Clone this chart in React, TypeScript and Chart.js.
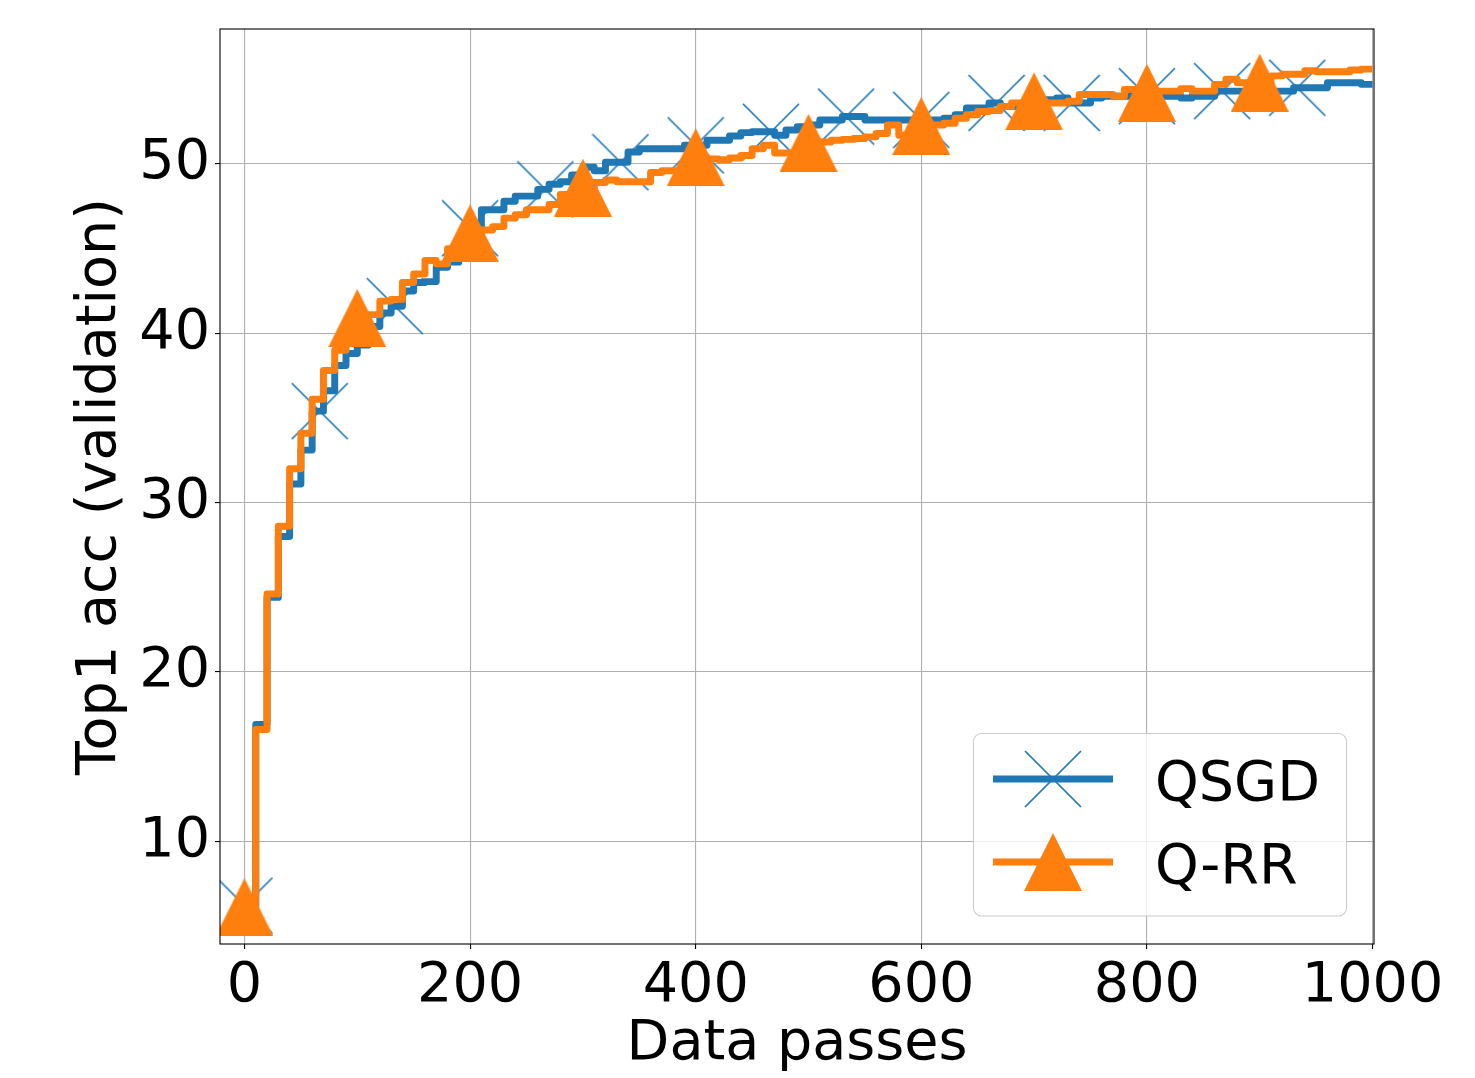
import { useEffect, useRef } from "react";
import { Chart, registerables } from "chart.js";

Chart.register(...registerables);

// ---- data ----
const passes = [
  0, 10, 20, 30, 40, 50, 60, 70, 80, 90,
  100, 110, 120, 130, 140, 150, 160, 170, 180, 190,
  200, 210, 220, 230, 240, 250, 260, 270, 280, 290,
  300, 310, 320, 330, 340, 350, 360, 370, 380, 390,
  400, 410, 420, 430, 440, 450, 460, 470, 480, 490,
  500, 510, 520, 530, 540, 550, 560, 570, 580, 590,
  600, 610, 620, 630, 640, 650, 660, 670, 680, 690,
  700, 710, 720, 730, 740, 750, 760, 770, 780, 790,
  800, 810, 820, 830, 840, 850, 860, 870, 880, 890,
  900, 910, 920, 930, 940, 950, 960, 970, 980, 990,
  1000,
];

const qsgdAcc = [
  6.2, 16.9, 24.4, 28.0, 31.1, 33.1, 35.4, 36.6, 38.1, 38.8,
  39.3, 40.4, 41.2, 41.6, 42.5, 43.0, 43.05, 43.9, 44.2, 45.3,
  46.2, 47.3, 47.3, 47.8, 48.1, 48.1, 48.5, 48.8, 48.95, 49.35,
  49.8, 49.6, 50.1, 50.1, 50.7, 50.9, 50.9, 50.9, 50.9, 51.1,
  51.1, 51.4, 51.4, 51.65, 51.85, 51.9, 51.9, 51.7, 52.0, 52.2,
  52.3, 52.6, 52.6, 52.8, 52.8, 52.6, 52.6, 52.6, 52.6, 52.6,
  52.6, 52.6, 52.7, 52.9, 53.3, 53.3, 53.6, 53.4, 53.4, 53.4,
  53.5, 53.8, 53.9, 53.6, 53.6, 53.9, 54.0, 54.0, 54.0, 54.0,
  54.0, 54.0, 54.0, 53.9, 54.0, 54.0, 54.3, 54.3, 54.3, 54.3,
  54.3, 54.3, 54.3, 54.5, 54.5, 54.5, 54.8, 54.8, 54.8, 54.7,
  54.7,
];

const qrrAcc = [
  6.1, 16.6, 24.6, 28.6, 32.0, 34.1, 36.1, 37.8, 39.0, 39.9,
  40.9, 41.1, 41.9, 42.0, 43.0, 43.5, 44.3, 44.1, 45.0, 45.4,
  45.9, 46.1, 46.3, 46.8, 47.0, 47.3, 47.3, 47.6, 48.2, 48.4,
  48.6, 48.9, 49.05, 48.95, 48.95, 48.95, 49.5, 49.6, 49.6, 49.9,
  50.4, 50.3, 50.25, 50.35, 50.5, 50.9, 51.1, 50.65, 50.65, 50.8,
  51.25, 51.3, 51.4, 51.45, 51.5, 51.6, 51.8, 52.3, 51.7, 51.9,
  52.25, 52.3, 52.4, 52.7, 52.9, 53.1, 53.15, 53.4, 53.6, 53.6,
  53.7, 53.6, 53.6, 53.7, 54.1, 54.1, 54.1, 54.0, 54.4, 54.3,
  54.2, 54.3, 54.3, 54.45, 54.3, 54.3, 54.7, 55.0, 54.8, 54.8,
  54.8, 55.2, 55.3, 55.3, 55.5, 55.45, 55.45, 55.45, 55.55, 55.6,
  55.6,
];

const qsgdMarkerPasses = [
  0, 66.7, 133.3, 200, 266.7, 333.3, 400, 466.7, 533.3, 600, 666.7, 733.3,
  800, 866.7, 933.3,
];
const qrrMarkerPasses = [0, 100, 200, 300, 400, 500, 600, 700, 800, 900];

const xTicks = [0, 200, 400, 600, 800, 1000];
const yTicks = [10, 20, 30, 40, 50];
const seriesNames = ["QSGD", "Q-RR"];
const xTitle = "Data passes";
const yTitle = "Top1 acc (validation)";

// ---- styles ----
const BLUE = "#1f77b4";
const ORANGE = "#ff7f0e";
const FONT = "'DejaVu Sans', sans-serif";
const FS = 55.6;
const LW = 6.94;

function stepValue(xs: number[], ys: number[], x: number): number {
  let v = ys[0];
  for (let i = 0; i < xs.length; i++) {
    if (xs[i] <= x + 1e-9) v = ys[i];
  }
  return v;
}

function makeTriangle(size: number, color: string): HTMLCanvasElement {
  const c = document.createElement("canvas");
  c.width = size;
  c.height = size;
  const g = c.getContext("2d")!;
  g.fillStyle = color;
  g.beginPath();
  g.moveTo(size / 2, 0);
  g.lineTo(size, size);
  g.lineTo(0, size);
  g.closePath();
  g.fill();
  return c;
}

function makeCross(size: number, color: string, lw: number): HTMLCanvasElement {
  const c = document.createElement("canvas");
  c.width = size;
  c.height = size;
  const g = c.getContext("2d")!;
  g.strokeStyle = color;
  g.lineWidth = lw;
  g.lineCap = "butt";
  const m = 1;
  g.beginPath();
  g.moveTo(m, m);
  g.lineTo(size - m, size - m);
  g.moveTo(size - m, m);
  g.lineTo(m, size - m);
  g.stroke();
  return c;
}

export default function App() {
  const ref = useRef<HTMLCanvasElement | null>(null);

  useEffect(() => {
    if (!ref.current) return;
    const tri = makeTriangle(58, ORANGE);
    const cross = makeCross(58, BLUE, 1.7);

    const qsgdLine = passes.map((x, i) => ({ x, y: qsgdAcc[i] }));
    const qrrLine = passes.map((x, i) => ({ x, y: qrrAcc[i] }));
    const qsgdMarks = qsgdMarkerPasses.map((x) => ({ x, y: stepValue(passes, qsgdAcc, x) }));
    const qrrMarks = qrrMarkerPasses.map((x) => ({ x, y: stepValue(passes, qrrAcc, x) }));

    const framePlugin = {
      id: "frameAndLegend",
      afterDatasetsDraw(chart: any) {
        const { ctx, chartArea: a } = chart;
        ctx.save();
        // spines
        ctx.strokeStyle = "#000";
        ctx.lineWidth = 1.1;
        ctx.strokeRect(a.left, a.top, a.right - a.left, a.bottom - a.top);

        // legend box
        const bx = 973.5, by = 733.5, bw = 373, bh = 182.5, r = 8;
        ctx.beginPath();
        ctx.moveTo(bx + r, by);
        ctx.lineTo(bx + bw - r, by);
        ctx.arcTo(bx + bw, by, bx + bw, by + r, r);
        ctx.lineTo(bx + bw, by + bh - r);
        ctx.arcTo(bx + bw, by + bh, bx + bw - r, by + bh, r);
        ctx.lineTo(bx + r, by + bh);
        ctx.arcTo(bx, by + bh, bx, by + bh - r, r);
        ctx.lineTo(bx, by + r);
        ctx.arcTo(bx, by, bx + r, by, r);
        ctx.closePath();
        ctx.fillStyle = "rgba(255,255,255,0.8)";
        ctx.fill();
        ctx.strokeStyle = "#cccccc";
        ctx.lineWidth = 1.1;
        ctx.stroke();

        const rows = [
          { name: seriesNames[0], color: BLUE, img: cross, y: 779 },
          { name: seriesNames[1], color: ORANGE, img: tri, y: 862 },
        ];
        for (const row of rows) {
          ctx.strokeStyle = row.color;
          ctx.lineWidth = LW;
          ctx.lineCap = "butt";
          ctx.beginPath();
          ctx.moveTo(993, row.y);
          ctx.lineTo(1113, row.y);
          ctx.stroke();
          ctx.drawImage(row.img, 1053 - row.img.width / 2, row.y - row.img.height / 2);
          ctx.fillStyle = "#000";
          ctx.font = `${FS}px ${FONT}`;
          ctx.textAlign = "left";
          ctx.textBaseline = "alphabetic";
          ctx.fillText(row.name, 1155, row.y + 21);
        }
        ctx.restore();
      },
    };

    const chart = new Chart(ref.current, {
      type: "line",
      data: {
        datasets: [
          {
            label: seriesNames[0],
            data: qsgdLine,
            borderColor: BLUE,
            backgroundColor: BLUE,
            borderWidth: LW,
            pointRadius: 0,
            stepped: "before",
            borderJoinStyle: "round",
            borderCapStyle: "butt",
            fill: false,
            order: 4,
          },
          {
            label: seriesNames[0] + " markers",
            data: qsgdMarks,
            showLine: false,
            pointStyle: cross,
            pointRadius: 28,
            borderWidth: 0,
            order: 3,
          },
          {
            label: seriesNames[1],
            data: qrrLine,
            borderColor: ORANGE,
            backgroundColor: ORANGE,
            borderWidth: LW,
            pointRadius: 0,
            stepped: "before",
            borderJoinStyle: "round",
            borderCapStyle: "butt",
            fill: false,
            order: 2,
          },
          {
            label: seriesNames[1] + " markers",
            data: qrrMarks,
            showLine: false,
            pointStyle: tri,
            pointRadius: 28,
            borderWidth: 0,
            order: 1,
          },
        ] as any,
      },
      options: {
        animation: false,
        responsive: false,
        devicePixelRatio: 1,
        events: [],
        layout: { padding: { top: 29, right: 101, left: 0, bottom: 0 } },
        plugins: { legend: { display: false }, tooltip: { enabled: false } },
        scales: {
          x: {
            type: "linear",
            min: -21.7,
            max: 1001.3,
            afterBuildTicks: (s: any) => {
              s.ticks = xTicks.map((v) => ({ value: v }));
            },
            afterFit: (s: any) => {
              s.height = 134;
              s.paddingLeft = 0;
              s.paddingRight = 0;
            },
            grid: {
              color: "#b0b0b0",
              lineWidth: 1.1,
              drawTicks: true,
              tickLength: 5,
              tickColor: "#000",
              tickWidth: 1.1,
            },
            border: { display: false },
            ticks: {
              color: "#000",
              font: { family: FONT, size: FS },
              padding: 4,
              maxRotation: 0,
              autoSkip: false,
              callback: (v: any) => String(v),
            },
            title: {
              display: true,
              text: xTitle,
              color: "#000",
              font: { family: FONT, size: FS, lineHeight: 1.2 },
              padding: { top: 0, bottom: 0 },
            },
          },
          y: {
            type: "linear",
            min: 3.93,
            max: 57.97,
            afterBuildTicks: (s: any) => {
              s.ticks = yTicks.map((v) => ({ value: v }));
            },
            afterFit: (s: any) => {
              s.width = 220;
              s.paddingTop = 0;
              s.paddingBottom = 0;
            },
            grid: {
              color: "#b0b0b0",
              lineWidth: 1.1,
              drawTicks: true,
              tickLength: 5,
              tickColor: "#000",
              tickWidth: 1.1,
            },
            border: { display: false },
            ticks: {
              color: "#000",
              font: { family: FONT, size: FS },
              padding: 5,
              autoSkip: false,
              callback: (v: any) => String(v),
            },
            title: {
              display: true,
              text: yTitle,
              color: "#000",
              font: { family: FONT, size: FS, lineHeight: 1.2 },
              padding: { top: 67, bottom: 0 },
            },
          },
        },
      } as any,
      plugins: [framePlugin],
    });

    return () => chart.destroy();
  }, []);

  return (
    <div style={{ position: "absolute", left: 0, top: 0, width: 1475, height: 1078, background: "#fff" }}>
      <canvas ref={ref} width={1475} height={1078} style={{ display: "block" }} />
    </div>
  );
}
